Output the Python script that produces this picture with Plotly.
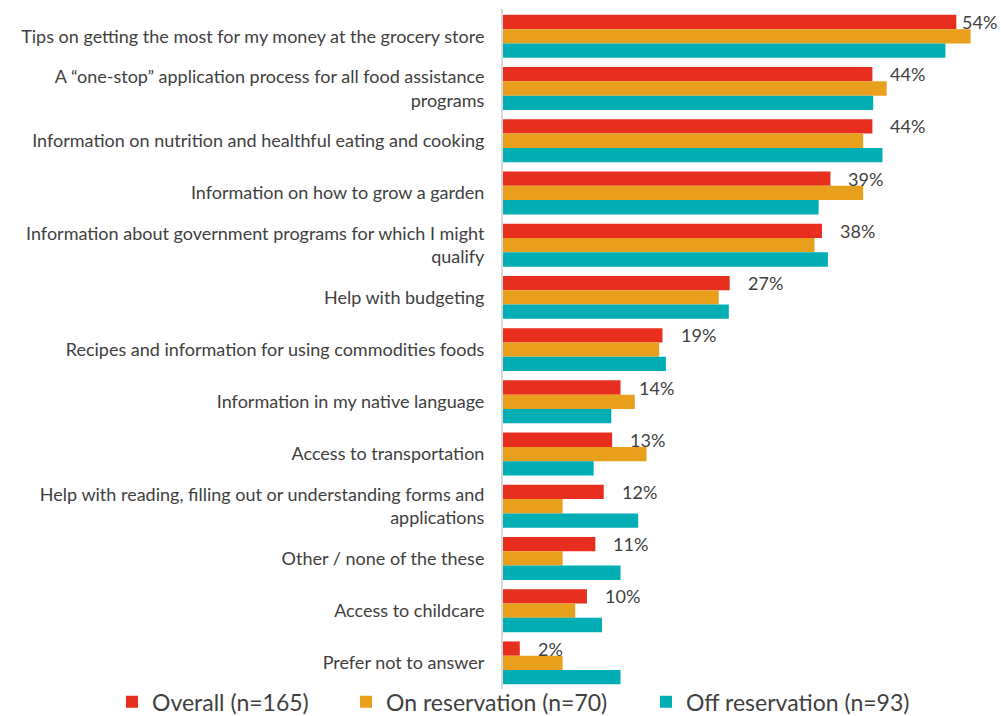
import plotly.graph_objects as go

# Survey items (top to bottom) and share of respondents (%) per group
categories = [
    "Tips on getting the most for my money at the grocery store",
    "A “one-stop” application process for all food assistance<br>programs",
    "Information on nutrition and healthful eating and cooking",
    "Information on how to grow a garden",
    "Information about government programs for which I might<br>qualify",
    "Help with budgeting",
    "Recipes and information for using commodities foods",
    "Information in my native language",
    "Access to transportation",
    "Help with reading, filling out or understanding forms and<br>applications",
    "Other / none of the these",
    "Access to childcare",
    "Prefer not to answer",
]
overall = [54, 44, 44, 39, 38, 27, 19, 14, 13, 12, 11, 10, 2]
on_reservation = [55.7, 45.7, 42.9, 42.9, 37.1, 25.7, 18.6, 15.7, 17.1, 7.1, 7.1, 8.6, 7.1]
off_reservation = [52.7, 44.1, 45.2, 37.6, 38.7, 26.9, 19.4, 12.9, 10.8, 16.1, 14.0, 11.8, 14.0]

series_names = ["Overall (n=165)", "On reservation (n=70)", "Off reservation (n=93)"]
series_values = [overall, on_reservation, off_reservation]
colors = ["#E82E1E", "#E8A01C", "#00AEB4"]

FONT = "Lato"
TEXT_COLOR = "#404040"
X_MAX = 59.2
BARGAP = 0.178
PX_PER_UNIT = (1001 - 503 - 1) / X_MAX

# one legend box per series, laid out in a row under the plot
legend_ids = ["legend", "legend2", "legend3"]
legend_x = [-0.7867, -0.3159, 0.2877]

fig = go.Figure()
for name, vals, col, lid in zip(series_names, series_values, colors, legend_ids):
    fig.add_trace(go.Bar(
        y=categories,
        x=vals,
        name=name,
        orientation="h",
        marker=dict(color=col, line=dict(width=0)),
        hoverinfo="x+y",
        legend=lid,
    ))

# Value labels next to the "Overall" bars
bar_w = (1 - BARGAP) / len(series_names)
label_gap_px = 16
label_w_px = 36
annotations = []
for i, v in enumerate(overall):
    y_pos = i - (1 - BARGAP) / 2 + bar_w / 2
    fits = v + (label_gap_px + label_w_px) / PX_PER_UNIT <= X_MAX
    annotations.append(dict(
        x=v if fits else X_MAX,
        y=y_pos,
        xref="x",
        yref="y",
        text=f"{v}%",
        showarrow=False,
        xanchor="left" if fits else "right",
        yanchor="middle",
        xshift=label_gap_px if fits else -1,
        font=dict(family=FONT, size=18, color=TEXT_COLOR),
    ))

legend_style = dict(
    orientation="h",
    xref="paper",
    yref="paper",
    y=-0.019,
    xanchor="left",
    yanchor="middle",
    font=dict(family=FONT, size=23, color=TEXT_COLOR),
    bgcolor="rgba(0,0,0,0)",
)

fig.update_layout(
    width=1001,
    height=716,
    margin=dict(l=503, r=1, t=9, b=27, autoexpand=False),
    paper_bgcolor="white",
    plot_bgcolor="white",
    barmode="group",
    bargap=BARGAP,
    bargroupgap=0,
    font=dict(family=FONT, color=TEXT_COLOR),
    showlegend=True,
    annotations=annotations,
    xaxis=dict(
        range=[0, X_MAX],
        visible=False,
        fixedrange=True,
    ),
    yaxis=dict(
        autorange="reversed",
        showline=True,
        linecolor="#D9D9D9",
        linewidth=2,
        showgrid=False,
        zeroline=False,
        ticks="",
        ticklabelstandoff=13,
        automargin=False,
        tickfont=dict(family=FONT, size=18, color=TEXT_COLOR),
    ),
)
for lid, lx in zip(legend_ids, legend_x):
    fig.update_layout({lid: dict(legend_style, x=lx)})

fig.write_html("out.html")
